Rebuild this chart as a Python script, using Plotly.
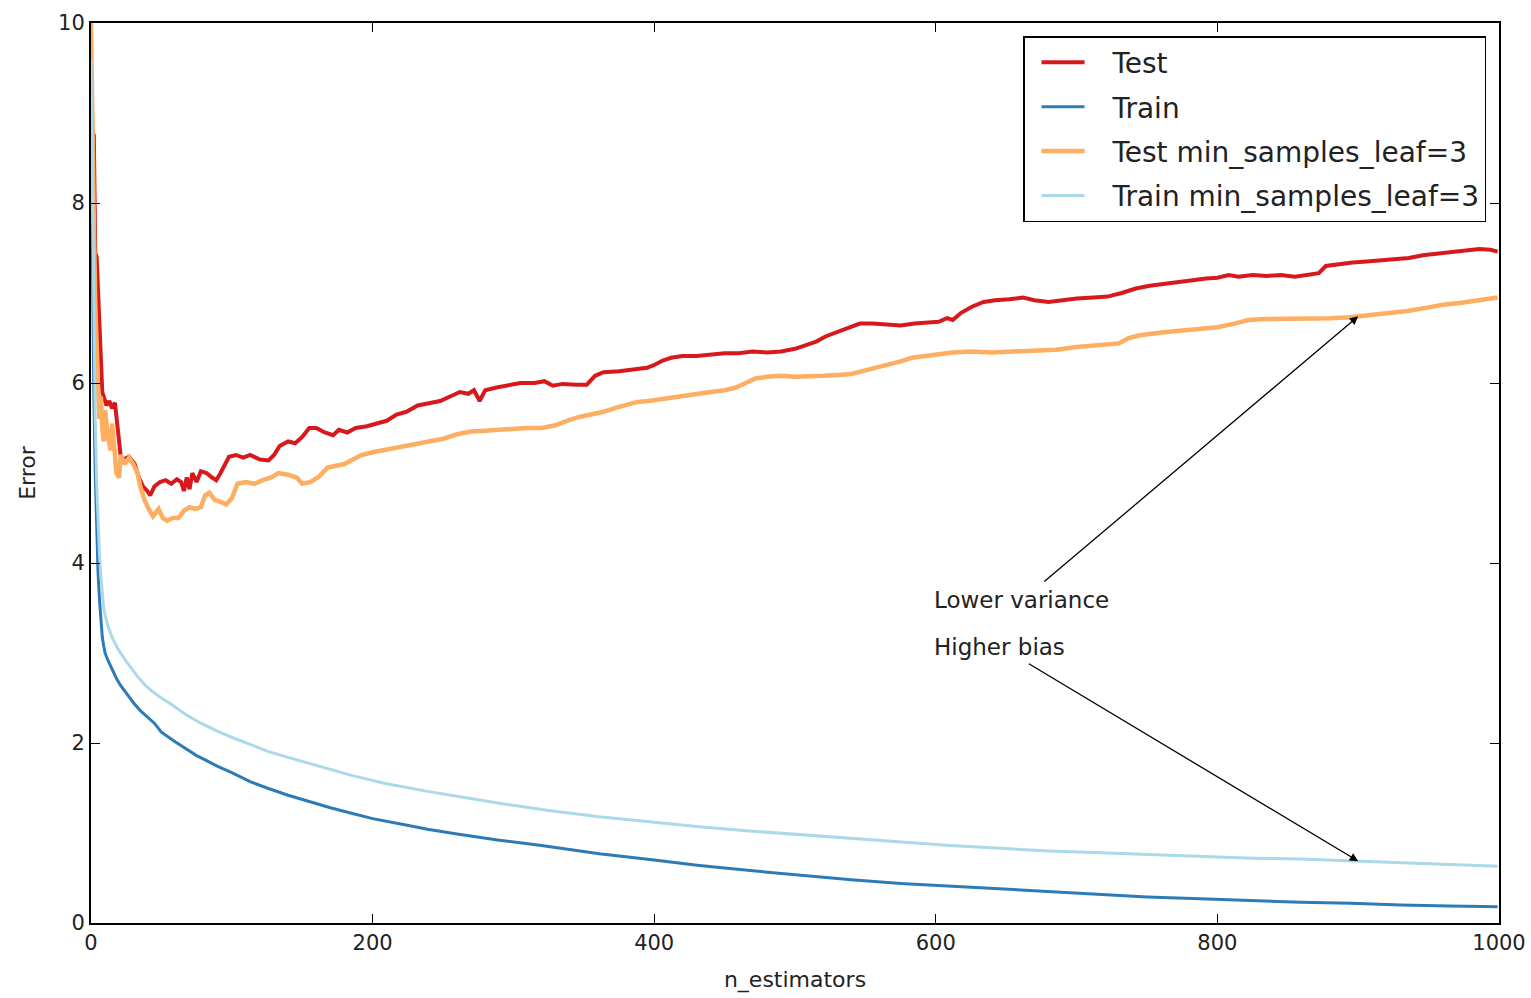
import numpy as np
import plotly.graph_objects as go

# Test error, default trees
test_n = [0, 1, 2, 3, 4, 5, 6, 7, 8, 9, 11, 13, 15, 17, 19, 21, 23, 27, 31, 34, 37, 40, 42, 45,
          49, 53, 57, 61, 64, 66, 68, 70, 72, 75, 78, 82, 86, 89, 92, 95, 98, 103, 108, 113, 120,
          126, 130, 134, 140, 145, 150, 155, 160, 166, 172, 176, 182, 188, 196, 203, 210, 217,
          224, 232, 240, 248, 255, 262, 268, 272, 276, 280, 288, 296, 305, 315, 322, 328, 335,
          345, 352, 358, 364, 375, 385, 395, 400, 406, 412, 420, 430, 440, 450, 460, 470, 480,
          490, 500, 508, 515, 522, 530, 538, 546, 555, 565, 575, 585, 595, 602, 608, 612, 618,
          626, 634, 642, 652, 662, 670, 680, 690, 700, 712, 722, 732, 742, 752, 762, 772, 782,
          792, 800, 808, 815, 825, 835, 845, 855, 865, 872, 877, 886, 896, 906, 916, 926, 936,
          946, 956, 966, 976, 986, 994, 999]
test_err = [9.6, 8.8, 8.75, 7.45, 7.4, 7.0, 6.6, 6.3, 5.9, 5.85, 5.75, 5.8, 5.72, 5.78, 5.5, 5.2,
            5.15, 5.18, 5.1, 4.95, 4.85, 4.8, 4.75, 4.85, 4.9, 4.92, 4.88, 4.93, 4.9, 4.8, 4.95,
            4.82, 5.0, 4.9, 5.02, 5.0, 4.95, 4.92, 5.0, 5.1, 5.18, 5.2, 5.17, 5.2, 5.15, 5.14,
            5.2, 5.3, 5.35, 5.33, 5.4, 5.5, 5.5, 5.45, 5.42, 5.48, 5.45, 5.5, 5.52, 5.55, 5.58,
            5.65, 5.68, 5.75, 5.78, 5.8, 5.85, 5.9, 5.88, 5.92, 5.8, 5.92, 5.95, 5.97, 6.0, 6.0,
            6.02, 5.97, 5.99, 5.98, 5.98, 6.08, 6.12, 6.13, 6.15, 6.17, 6.2, 6.25, 6.28, 6.3,
            6.3, 6.32, 6.33, 6.33, 6.35, 6.34, 6.35, 6.38, 6.42, 6.46, 6.52, 6.57, 6.62, 6.66,
            6.66, 6.65, 6.64, 6.66, 6.67, 6.68, 6.72, 6.7, 6.78, 6.85, 6.9, 6.92, 6.93, 6.95,
            6.92, 6.9, 6.92, 6.94, 6.95, 6.96, 7.0, 7.05, 7.08, 7.1, 7.13, 7.15, 7.16, 7.17,
            7.2, 7.18, 7.2, 7.19, 7.2, 7.18, 7.2, 7.22, 7.3, 7.32, 7.34, 7.35, 7.36, 7.38, 7.39,
            7.42, 7.44, 7.46, 7.48, 7.49, 7.48, 7.46]

# Training error, default trees
train_n = [0, 1, 2, 3, 4, 5, 6, 7, 8, 9, 10, 12, 15, 18, 21, 25, 30, 35, 40, 45, 50, 55, 60, 65,
           70, 75, 80, 90, 100, 113, 125, 140, 155, 170, 185, 200, 220, 240, 260, 290, 320, 361,
           400, 432, 470, 504, 540, 575, 610, 646, 680, 717, 750, 788, 825, 859, 895, 930, 965,
           999]
train_err = [9.0, 7.2, 5.9, 5.0, 4.35, 3.9, 3.6, 3.35, 3.18, 3.08, 3.0, 2.92, 2.82, 2.72, 2.64,
             2.55, 2.45, 2.36, 2.29, 2.22, 2.12, 2.06, 2.01, 1.96, 1.91, 1.86, 1.82, 1.74, 1.67,
             1.57, 1.5, 1.42, 1.35, 1.28, 1.22, 1.16, 1.1, 1.04, 0.99, 0.92, 0.86, 0.77, 0.7,
             0.64, 0.58, 0.53, 0.48, 0.44, 0.41, 0.38, 0.35, 0.32, 0.29, 0.27, 0.25, 0.23, 0.22,
             0.2, 0.19, 0.18]

# Test error, min_samples_leaf=3
test3_n = [0, 1, 2, 3, 4, 5, 6, 7, 8, 9, 10, 12, 14, 15, 17, 18, 20, 21, 24, 27, 30, 33, 35, 38,
           41, 44, 48, 51, 54, 58, 62, 66, 70, 74, 78, 81, 84, 88, 92, 96, 100, 104, 110, 116,
           122, 128, 133, 140, 146, 150, 156, 162, 168, 174, 180, 186, 192, 200, 210, 220, 230,
           240, 250, 260, 270, 280, 290, 300, 310, 320, 330, 338, 346, 355, 364, 372, 380, 388,
           396, 404, 412, 420, 430, 440, 450, 458, 465, 472, 480, 490, 500, 510, 520, 530, 540,
           550, 558, 566, 575, 583, 592, 602, 612, 625, 640, 655, 670, 685, 700, 715, 730, 737,
           745, 760, 775, 790, 800, 812, 822, 835, 850, 865, 880, 894, 905, 920, 935, 950, 960,
           972, 985, 999]
test3_err = [10.0, 9.2, 7.8, 6.9, 6.3, 5.95, 5.6, 5.85, 5.5, 5.35, 5.7, 5.4, 5.25, 5.55, 5.2,
             5.0, 4.95, 5.2, 5.1, 5.17, 5.1, 5.0, 4.85, 4.7, 4.6, 4.52, 4.6, 4.5, 4.47, 4.5,
             4.5, 4.58, 4.62, 4.6, 4.62, 4.75, 4.78, 4.7, 4.68, 4.65, 4.72, 4.88, 4.9, 4.88,
             4.92, 4.95, 5.0, 4.98, 4.95, 4.88, 4.9, 4.96, 5.06, 5.08, 5.1, 5.15, 5.2, 5.23,
             5.26, 5.3, 5.32, 5.35, 5.38, 5.43, 5.46, 5.47, 5.48, 5.5, 5.5, 5.5, 5.53, 5.58,
             5.62, 5.65, 5.68, 5.72, 5.76, 5.79, 5.8, 5.82, 5.84, 5.86, 5.88, 5.9, 5.92, 5.95,
             6.0, 6.05, 6.07, 6.08, 6.07, 6.07, 6.08, 6.09, 6.1, 6.14, 6.17, 6.2, 6.24, 6.28,
             6.3, 6.33, 6.34, 6.35, 6.34, 6.35, 6.36, 6.37, 6.4, 6.42, 6.44, 6.5, 6.53, 6.56,
             6.58, 6.6, 6.62, 6.66, 6.7, 6.71, 6.71, 6.72, 6.72, 6.73, 6.75, 6.78, 6.8, 6.84,
             6.87, 6.89, 6.92, 6.95]

# Training error, min_samples_leaf=3
train3_n = [0, 1, 2, 3, 4, 5, 6, 7, 8, 9, 10, 12, 15, 19, 24, 29, 33, 38, 43, 50, 57, 67, 78, 90,
            102, 114, 125, 140, 161, 185, 209, 240, 290, 325, 361, 400, 432, 470, 504, 540, 575,
            610, 646, 680, 717, 750, 788, 825, 859, 895, 930, 965, 999]
train3_err = [9.6, 8.0, 6.6, 5.6, 4.9, 4.4, 4.1, 3.85, 3.65, 3.5, 3.42, 3.3, 3.17, 3.05, 2.93,
              2.82, 2.74, 2.65, 2.58, 2.5, 2.43, 2.32, 2.22, 2.13, 2.05, 1.98, 1.91, 1.84, 1.75,
              1.64, 1.55, 1.46, 1.33, 1.25, 1.18, 1.12, 1.07, 1.02, 0.98, 0.94, 0.9, 0.86, 0.83,
              0.8, 0.78, 0.76, 0.74, 0.72, 0.71, 0.69, 0.67, 0.65, 0.63]

x_ticks = [0, 200, 400, 600, 800, 1000]
y_ticks = [0, 2, 4, 6, 8, 10]

FONT = "DejaVu Sans"
# name, x, y, colour, line width (test curves are noisier and read thicker)
series = [
    ("Test", test_n, test_err, "#d7191c", 4),
    ("Train", train_n, train_err, "#2c7bb6", 3),
    ("Test min_samples_leaf=3", test3_n, test3_err, "#fdae61", 4.5),
    ("Train min_samples_leaf=3", train3_n, train3_err, "#abd9e9", 3),
]

fig = go.Figure()
for name, xs, ys, color, w in series:
    fig.add_trace(go.Scatter(
        x=xs, y=ys, mode="lines", name="\u2002\u00a0" + name, legendgroup=name,
        line=dict(color=color, width=w),
    ))

axis_common = dict(
    showgrid=False, zeroline=False, showline=True, linecolor="black", linewidth=2,
    mirror="ticks", ticks="inside", ticklen=9, tickwidth=1.2, tickcolor="black",
    tickfont=dict(family=FONT, size=21, color="#222"), automargin=False,
)
fig.update_xaxes(range=[0, 1000], tickvals=x_ticks,
                 title=dict(text="n_estimators", font=dict(family=FONT, size=22, color="#222"),
                            standoff=17),
                 **axis_common)
fig.update_yaxes(range=[0, 10], tickvals=y_ticks,
                 title=dict(text="Error", font=dict(family=FONT, size=22, color="#222"),
                            standoff=16),
                 **axis_common)

# Annotated arrows: the min_samples_leaf=3 curves at n_estimators = 900
arrow_x = 900
tip_test3 = float(np.interp(arrow_x, test3_n, test3_err))
tip_train3 = float(np.interp(arrow_x, train3_n, train3_err))
arrows = [((arrow_x, tip_test3), (676, 3.78)), ((arrow_x, tip_train3), (665, 2.89))]
for (tx, ty), (sx, sy) in arrows:
    fig.add_annotation(x=tx, y=ty, ax=sx, ay=sy, xref="x", yref="y", axref="x", ayref="y",
                       text="", showarrow=True, arrowhead=2, arrowsize=1.3, arrowwidth=1.3,
                       arrowcolor="black", standoff=0, startstandoff=0)
for label, ly in [("Lower variance", 3.59), ("Higher bias", 3.07)]:
    fig.add_annotation(x=597, y=ly, xref="x", yref="y", text=label, showarrow=False,
                       xanchor="left", yanchor="middle",
                       font=dict(family=FONT, size=23, color="#222"))

fig.update_layout(
    width=1531, height=998,
    margin=dict(l=91, r=32, t=23, b=75),
    paper_bgcolor="white", plot_bgcolor="white",
    legend=dict(
        x=0.9908, y=0.9855, xanchor="right", yanchor="top",
        bgcolor="white", bordercolor="black", borderwidth=1.5,
        font=dict(family=FONT, size=28, color="#222"),
        tracegroupgap=5, itemwidth=43, indentation=12,
    ),
    showlegend=True,
)

fig.write_html("out.html")
